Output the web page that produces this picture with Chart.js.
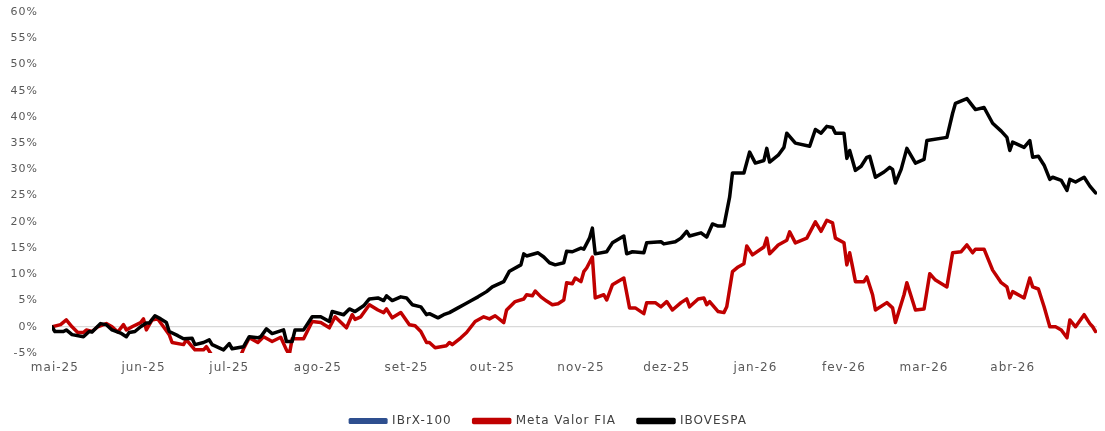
<!DOCTYPE html>
<html lang="pt-BR">
<head>
<meta charset="utf-8">
<title>Meta Valor FIA x IBOVESPA</title>
<script src="https://cdn.jsdelivr.net/npm/chart.js@4.4.1/dist/chart.umd.min.js"></script>
<style>
  html, body { margin: 0; padding: 0; background: #fff; }
  #box { width: 1105px; height: 431px; position: relative; }
</style>
</head>
<body>
<div id="box"><canvas id="grafico"></canvas></div>
<script>
// dias contados a partir de 01/05/2025
var mesesDias = [0, 31, 61, 92, 123, 153, 184, 214, 245, 276, 304, 335];
var mesesRotulos = ['mai-25', 'jun-25', 'jul-25', 'ago-25', 'set-25', 'out-25',
                    'nov-25', 'dez-25', 'jan-26', 'fev-26', 'mar-26', 'abr-26'];

// IBrX-100 nao aparece no grafico (so na legenda)
var ibrxDias = [];
var ibrxValores = [];

var metaDias = [
  -1, 2, 4, 6, 8, 10, 11, 13, 15, 18, 20, 22, 24, 25, 27, 30, 31, 32, 34, 36,
  38, 40, 41, 45, 46, 49, 52, 53, 55, 58, 62, 65, 66, 68, 71, 73, 76, 79, 81, 82,
  83, 87, 90, 93, 96, 98, 102, 104, 105, 107, 110, 113, 115, 116, 118, 121, 124, 126, 128, 130,
  131, 133, 135, 137, 138, 139, 142, 144, 147, 150, 152, 154, 157, 158, 161, 164, 165, 167, 168, 170,
  172, 174, 176, 178, 179, 181, 182, 184, 185, 186, 188, 189, 192, 193, 195, 199, 201, 203, 206, 207,
  210, 212, 214, 216, 219, 221, 222, 225, 227, 228, 229, 232, 234, 235, 237, 239, 241, 242, 244, 248,
  249, 250, 253, 256, 257, 259, 263, 266, 268, 270, 272, 273, 276, 277, 278, 279, 280, 283, 284, 286,
  287, 291, 293, 294, 297, 298, 301, 304, 306, 308, 312, 314, 317, 319, 321, 322, 325, 328, 331, 333,
  334, 335, 339, 341, 342, 344, 346, 348, 350, 352, 354, 355, 357, 360, 362, 363, 364
];
var metaValores = [
  0.0, 0.4, 1.3, 0.0, -1.1, -1.1, -0.6, -0.9, 0.0, 0.6, 0.0, -1.0, 0.4, -0.6, 0.0, 0.8, 1.5, -0.6, 1.3, 1.5,
  0.0, -1.5, -3.0, -3.4, -2.5, -4.4, -4.4, -3.8, -5.5, -5.6, -5.4, -5.5, -4.2, -2.1, -3.0, -1.9, -2.8, -2.0, -4.4, -5.3,
  -2.3, -2.3, 1.0, 0.8, -0.2, 1.9, -0.2, 2.3, 1.4, 1.9, 4.2, 3.2, 2.7, 3.4, 1.7, 2.7, 0.4, 0.2, -0.9, -3.0,
  -3.0, -4.0, -3.8, -3.6, -3.0, -3.4, -2.1, -1.1, 1.0, 1.9, 1.5, 2.1, 0.8, 3.2, 4.8, 5.3, 6.1, 5.9, 6.8, 5.7,
  4.9, 4.2, 4.4, 5.1, 8.4, 8.2, 9.3, 8.6, 10.5, 11.2, 13.3, 5.5, 6.1, 5.1, 8.0, 9.3, 3.6, 3.6, 2.5, 4.6,
  4.6, 3.8, 4.8, 3.2, 4.6, 5.3, 3.8, 5.3, 5.5, 4.2, 4.8, 2.9, 2.7, 3.8, 10.5, 11.4, 12.0, 15.4, 13.7, 15.2,
  16.9, 13.9, 15.6, 16.5, 18.1, 16.0, 16.9, 20.0, 18.2, 20.3, 19.8, 16.9, 16.0, 11.8, 14.1, 11.4, 8.6, 8.6, 9.5, 6.1,
  3.2, 4.6, 3.6, 0.8, 6.1, 8.4, 3.2, 3.4, 10.1, 8.9, 7.6, 14.1, 14.3, 15.6, 14.1, 14.8, 14.8, 10.8, 8.4, 7.6,
  5.5, 6.7, 5.5, 9.3, 7.6, 7.2, 3.8, 0.0, 0.0, -0.6, -2.1, 1.3, 0.0, 2.3, 0.6, 0.0, -0.9
];

var ibovDias = [
  -1, 0, 3, 4, 6, 10, 12, 13, 16, 18, 20, 23, 25, 26, 28, 30, 32, 33, 35, 37,
  39, 40, 43, 45, 48, 49, 52, 54, 55, 59, 61, 62, 66, 68, 71, 72, 74, 76, 80, 81,
  83, 84, 87, 90, 93, 96, 97, 101, 103, 105, 108, 110, 113, 115, 116, 118, 121, 123, 125, 128,
  130, 131, 134, 136, 138, 141, 143, 146, 148, 151, 153, 157, 159, 163, 164, 165, 169, 171, 173, 175,
  178, 179, 181, 184, 185, 187, 188, 189, 193, 195, 199, 200, 202, 206, 207, 212, 213, 217, 219, 221,
  222, 226, 228, 230, 232, 234, 236, 237, 241, 243, 245, 248, 249, 250, 253, 255, 256, 259, 264, 266,
  268, 270, 272, 273, 276, 277, 278, 279, 280, 282, 284, 285, 287, 290, 292, 293, 294, 296, 298, 301,
  304, 305, 312, 314, 315, 319, 322, 325, 328, 331, 333, 334, 335, 339, 341, 342, 344, 346, 348, 349,
  352, 354, 355, 357, 360, 362, 364
];
var ibovValores = [
  0.0, -0.9, -0.9, -0.6, -1.5, -1.9, -0.9, -1.0, 0.6, 0.4, -0.6, -1.2, -1.9, -1.1, -0.9, 0.0, 0.7, 0.7, 2.1, 1.5,
  0.8, -0.9, -1.7, -2.3, -2.2, -3.4, -3.0, -2.5, -3.4, -4.4, -3.2, -4.2, -3.8, -1.9, -2.1, -1.9, -0.4, -1.3, -0.6, -2.8,
  -2.8, -0.6, -0.6, 1.9, 1.9, 1.0, 2.9, 2.3, 3.4, 2.9, 4.0, 5.3, 5.5, 5.0, 5.9, 5.0, 5.7, 5.5, 4.2, 3.8,
  2.3, 2.5, 1.7, 2.3, 2.7, 3.6, 4.2, 5.1, 5.7, 6.7, 7.6, 8.6, 10.6, 11.8, 13.9, 13.5, 14.1, 13.3, 12.2, 11.8,
  12.2, 14.4, 14.3, 15.0, 14.8, 16.9, 18.8, 13.9, 14.3, 16.0, 17.3, 13.9, 14.3, 14.1, 16.0, 16.2, 15.8, 16.2, 16.9, 18.2,
  17.3, 17.9, 17.1, 19.6, 19.2, 19.2, 24.7, 29.3, 29.3, 33.3, 31.2, 31.7, 34.0, 31.4, 32.7, 34.2, 36.9, 35.0, 34.4, 37.6,
  36.9, 38.2, 38.0, 36.9, 36.9, 32.1, 33.6, 31.7, 29.8, 30.6, 32.3, 32.5, 28.5, 29.5, 30.4, 30.0, 27.4, 30.0, 34.0, 31.2,
  31.9, 35.5, 36.1, 40.7, 42.6, 43.5, 41.4, 41.8, 38.8, 37.3, 36.1, 33.6, 35.2, 34.2, 35.5, 32.3, 32.5, 30.8, 28.1, 28.5,
  27.9, 26.0, 28.1, 27.6, 28.5, 26.8, 25.5
];

function pontos(dias, valores) {
  return dias.map(function(d, i) { return {x: d, y: valores[i]}; });
}

var fonte = "'DejaVu Sans', sans-serif";

// texto um pouco espacado, como no original
var espacamento = {
  id: 'espacamento',
  beforeUpdate: function(chart) { chart.ctx.letterSpacing = '1px'; },
  beforeDraw: function(chart) { chart.ctx.letterSpacing = '1px'; }
};

new Chart(document.getElementById('grafico'), {
  type: 'line',
  plugins: [espacamento],
  data: {
    datasets: [
      {
        label: 'IBrX-100',
        data: pontos(ibrxDias, ibrxValores),
        borderColor: '#2E4F8F',
        backgroundColor: '#2E4F8F',
        borderWidth: 3,
        order: 2
      },
      {
        label: 'Meta Valor FIA',
        data: pontos(metaDias, metaValores),
        borderColor: '#C00000',
        backgroundColor: '#C00000',
        borderWidth: 3.5,
        order: 1
      },
      {
        label: 'IBOVESPA',
        data: pontos(ibovDias, ibovValores),
        borderColor: '#000000',
        backgroundColor: '#000000',
        borderWidth: 3.5,
        order: 0
      }
    ]
  },
  options: {
    responsive: true,
    maintainAspectRatio: false,
    animation: false,
    layout: { padding: { top: 12, right: 8, left: 0, bottom: -6 } },
    elements: {
      point: { radius: 0 },
      line: { tension: 0, borderJoinStyle: 'round', borderCapStyle: 'round' }
    },
    scales: {
      x: {
        type: 'linear',
        min: -1,
        max: 364.5,
        grid: { display: false },
        border: { display: false },
        afterBuildTicks: function(scale) {
          scale.ticks = mesesDias.map(function(d) { return {value: d}; });
        },
        afterFit: function(scale) { scale.height = 40; },
        ticks: {
          autoSkip: false,
          maxRotation: 0,
          padding: 0,
          color: '#595959',
          font: { family: fonte, size: 12 },
          callback: function(v) {
            var i = mesesDias.indexOf(v);
            return i >= 0 ? mesesRotulos[i] : '';
          }
        }
      },
      y: {
        min: -5,
        max: 60,
        afterFit: function(scale) {
          scale.width = 52;
          scale.paddingTop = 7;
          scale.paddingBottom = 7;
        },
        border: { display: false },
        grid: {
          drawTicks: false,
          color: function(ctx) { return ctx.tick && ctx.tick.value === 0 ? '#d9d9d9' : 'rgba(0,0,0,0)'; },
          lineWidth: 1.2
        },
        ticks: {
          stepSize: 5,
          padding: 14,
          color: '#595959',
          font: { family: fonte, size: 11 },
          callback: function(v) { return v + '%'; }
        }
      }
    },
    plugins: {
      tooltip: { enabled: false },
      legend: {
        position: 'bottom',
        labels: {
          boxWidth: 36,
          boxHeight: 3,
          padding: 22,
          color: '#404040',
          font: { family: fonte, size: 12 },
          sort: function(a, b) { return a.datasetIndex - b.datasetIndex; }
        }
      }
    }
  }
});
</script>
</body>
</html>
